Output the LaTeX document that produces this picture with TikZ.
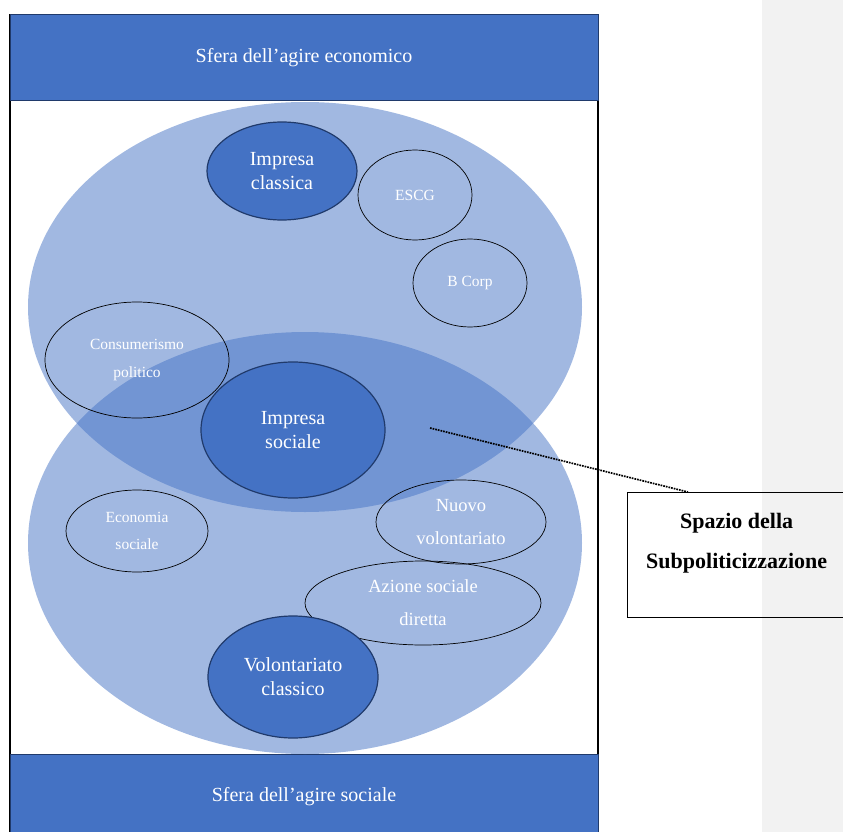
\documentclass[tikz,border=0pt]{standalone}
\usepackage{fontspec}
\setmainfont{Liberation Serif}
\usepackage{tikz}
\usetikzlibrary{shapes.geometric,positioning,calc}
\definecolor{bandblue}{HTML}{4472C4}
\definecolor{navy}{HTML}{203A6B}
\definecolor{stripgray}{HTML}{F2F2F2}

\begin{document}
\begin{tikzpicture}[x=1pt,y=-1pt,
  sfera/.style={shape=ellipse,fill=bandblue,fill opacity=0.5,inner sep=0pt,minimum width=554pt,minimum height=#1},
  core/.style={shape=ellipse,draw=navy,line width=1.2pt,fill=bandblue,text=white,align=center,inner sep=0pt,font=\fontsize{20}{24}\selectfont},
  minor/.style={shape=ellipse,draw=black,line width=0.7pt,text=white,align=center,inner sep=0pt},
  band/.style={draw=navy,line width=1pt,fill=bandblue,text=white,minimum width=588pt,minimum height=86pt,font=\fontsize{20}{24}\selectfont}]
\useasboundingbox (0,0) rectangle (843,832);
\clip (0,0) rectangle (843,832);
\fill[stripgray] (762,0) rectangle (843,832);
\draw[line width=1.2pt] (10,15) rectangle (598,860);
\node[band] (agireeco) at (304,58) {Sfera dell’agire economico};
\node[band] (agiresoc) at (304,797) {Sfera dell’agire sociale};
% le due sfere
\node[sfera=410pt] (economico) at (305,307) {};
\node[sfera=422pt] (sociale) at (305,543) {};
% forme
\node[core,minimum width=150pt,minimum height=98pt] (classica) at (282,171) {Impresa\\classica};
\node[minor,minimum width=114pt,minimum height=90pt,font=\fontsize{15.5}{18}\selectfont] (escg) at (415,195) {ESCG};
\node[minor,minimum width=114pt,minimum height=88pt,font=\fontsize{15.5}{18}\selectfont] (bcorp) at (470,283) {B Corp};
\node[minor,minimum width=184pt,minimum height=116pt,font=\fontsize{15.5}{28}\selectfont] (consumo) at (137,360) {Consumerismo\\politico};
\node[core,minimum width=184pt,minimum height=136pt] (impsoc) at (293,430) {Impresa\\sociale};
\node[minor,minimum width=142pt,minimum height=82pt,font=\fontsize{15.5}{27}\selectfont] (ecosoc) at (137,531) {Economia\\sociale};
\node[minor,minimum width=170pt,minimum height=84pt,font=\fontsize{18.5}{33}\selectfont] (nuovo) at (461,522) {Nuovo\\volontariato};
\node[minor,minimum width=236pt,minimum height=84pt,font=\fontsize{18.5}{33}\selectfont] (azione) at (423,603) {Azione sociale\\diretta};
\node[core,minimum width=170pt,minimum height=122pt] (volclass) at (293,677) {Volontariato\\classico};
% subpoliticizzazione
\node[draw=black,line width=1.3pt,minimum width=218pt,minimum height=125pt,anchor=north west,inner sep=0pt] (spazio) at (627,492) {};
\node[inner sep=0pt,align=center,font=\bfseries\fontsize{22}{40}\selectfont,below=21pt of spazio.north] (spaziotxt) {Spazio della\\Subpoliticizzazione};
\coordinate (overlap) at (430,428);
\coordinate (tip) at ($(spazio.north west)+(61,0)$);
\draw[densely dotted,line width=1.7pt] (overlap) -- (tip);
\end{tikzpicture}
\end{document}
